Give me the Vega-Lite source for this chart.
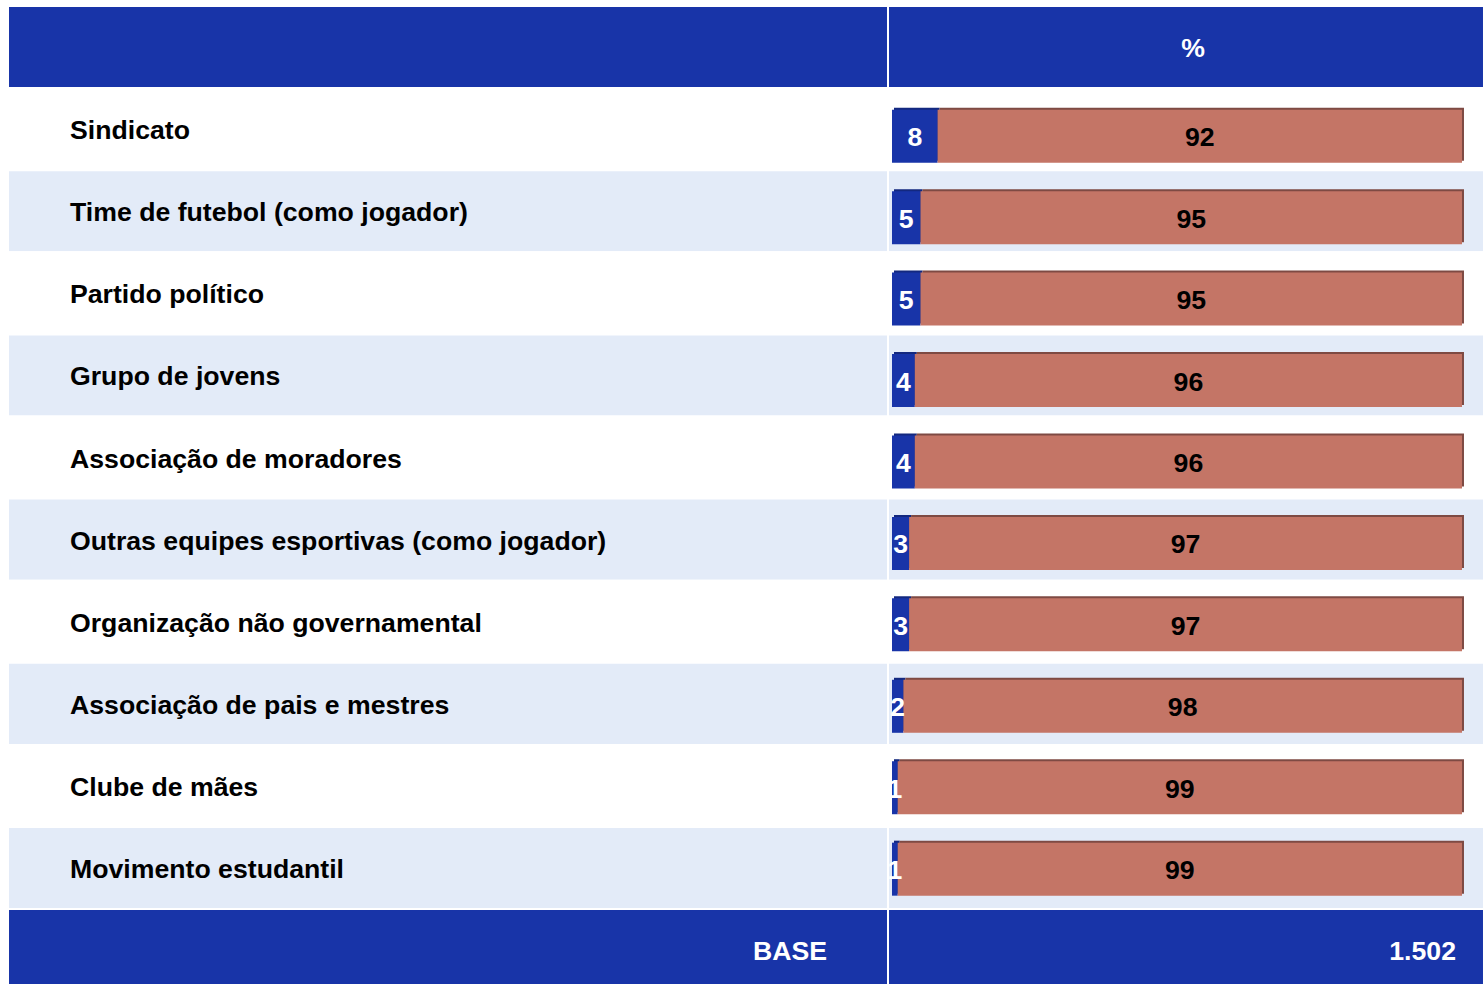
{
  "$schema": "https://vega.github.io/schema/vega-lite/v6.json",
  "padding": {"left": 7, "top": 5, "right": 0, "bottom": 0},
  "bounds": "flush",
  "spacing": 0,
  "background": "white",
  "config": {
    "view": {"stroke": null},
    "font": "Liberation Sans",
    "text": {"font": "Liberation Sans", "fontWeight": "bold", "fontSize": 26.67, "baseline": "middle"}
  },
  "datasets": {
    "rows": [
      {"row": "%", "part": "head"},
      {"row": "Sindicato", "part": "body"},
      {"row": "Time de futebol (como jogador)", "part": "body"},
      {"row": "Partido político", "part": "body"},
      {"row": "Grupo de jovens", "part": "body"},
      {"row": "Associação de moradores", "part": "body"},
      {"row": "Outras equipes esportivas (como jogador)", "part": "body"},
      {"row": "Organização não governamental", "part": "body"},
      {"row": "Associação de pais e mestres", "part": "body"},
      {"row": "Clube de mães", "part": "body"},
      {"row": "Movimento estudantil", "part": "body"},
      {"row": "BASE", "part": "foot", "n": "1.502"}
    ],
    "bars": [
      {"row": "Sindicato", "resp": "Sim", "pct": 8},
      {"row": "Sindicato", "resp": "Não", "pct": 92},
      {"row": "Time de futebol (como jogador)", "resp": "Sim", "pct": 5},
      {"row": "Time de futebol (como jogador)", "resp": "Não", "pct": 95},
      {"row": "Partido político", "resp": "Sim", "pct": 5},
      {"row": "Partido político", "resp": "Não", "pct": 95},
      {"row": "Grupo de jovens", "resp": "Sim", "pct": 4},
      {"row": "Grupo de jovens", "resp": "Não", "pct": 96},
      {"row": "Associação de moradores", "resp": "Sim", "pct": 4},
      {"row": "Associação de moradores", "resp": "Não", "pct": 96},
      {"row": "Outras equipes esportivas (como jogador)", "resp": "Sim", "pct": 3},
      {"row": "Outras equipes esportivas (como jogador)", "resp": "Não", "pct": 97},
      {"row": "Organização não governamental", "resp": "Sim", "pct": 3},
      {"row": "Organização não governamental", "resp": "Não", "pct": 97},
      {"row": "Associação de pais e mestres", "resp": "Sim", "pct": 2},
      {"row": "Associação de pais e mestres", "resp": "Não", "pct": 98},
      {"row": "Clube de mães", "resp": "Sim", "pct": 1},
      {"row": "Clube de mães", "resp": "Não", "pct": 99},
      {"row": "Movimento estudantil", "resp": "Sim", "pct": 1},
      {"row": "Movimento estudantil", "resp": "Não", "pct": 99}
    ]
  },
  "hconcat": [
    {
      "width": 880,
      "height": 985.2,
      "layer": [
        {
          "data": {"name": "rows"},
          "transform": [{"window": [{"op": "row_number", "as": "rn"}]}],
          "mark": {"type": "bar", "stroke": "white", "strokeWidth": 2},
          "encoding": {
            "y": {
              "field": "row", "type": "nominal", "axis": null,
              "scale": {
                "domain": ["%", "Sindicato", "Time de futebol (como jogador)", "Partido político", "Grupo de jovens", "Associação de moradores", "Outras equipes esportivas (como jogador)", "Organização não governamental", "Associação de pais e mestres", "Clube de mães", "Movimento estudantil", "BASE"],
                "paddingInner": 0, "paddingOuter": 0
              }
            },
            "color": {
              "condition": [
                {"test": "datum.part !== 'body'", "value": "#1834A8"},
                {"test": "datum.rn % 2 == 1", "value": "#E3EBF8"}
              ],
              "value": "#FFFFFF"
            }
          }
        },
        {
          "data": {"name": "rows"},
          "transform": [{"filter": "datum.part === 'body'"}],
          "mark": {"type": "text", "align": "left", "color": "#000000", "yOffset": 2},
          "encoding": {
            "y": {"field": "row", "type": "nominal", "axis": null},
            "x": {"value": 62},
            "text": {"field": "row"}
          }
        },
        {
          "data": {"name": "rows"},
          "transform": [{"filter": "datum.part === 'foot'"}],
          "mark": {"type": "text", "align": "right", "color": "#FFFFFF", "yOffset": 2},
          "encoding": {
            "y": {"field": "row", "type": "nominal", "axis": null},
            "x": {"value": 819},
            "text": {"field": "row"}
          }
        }
      ]
    },
    {
      "width": 596,
      "height": 985.2,
      "resolve": {"scale": {"y": "independent"}},
      "layer": [
        {
          "layer": [
            {
              "data": {"name": "rows"},
              "transform": [{"window": [{"op": "row_number", "as": "rn"}]}],
              "mark": {"type": "bar", "stroke": "white", "strokeWidth": 2},
              "encoding": {
                "y": {
                  "field": "row", "type": "nominal", "axis": null,
                  "scale": {
                    "domain": ["%", "Sindicato", "Time de futebol (como jogador)", "Partido político", "Grupo de jovens", "Associação de moradores", "Outras equipes esportivas (como jogador)", "Organização não governamental", "Associação de pais e mestres", "Clube de mães", "Movimento estudantil", "BASE"],
                    "paddingInner": 0, "paddingOuter": 0
                  }
                },
                "color": {
                  "condition": [
                    {"test": "datum.part !== 'body'", "value": "#1834A8"},
                    {"test": "datum.rn % 2 == 1", "value": "#E3EBF8"}
                  ],
                  "value": "#FFFFFF"
                }
              }
            },
            {
              "data": {"name": "rows"},
              "transform": [{"filter": "datum.part === 'head'"}],
              "mark": {"type": "text", "align": "center", "color": "#FFFFFF", "dx": 7, "yOffset": 2},
              "encoding": {
                "y": {"field": "row", "type": "nominal", "axis": null},
                "text": {"field": "row"}
              }
            },
            {
              "data": {"name": "rows"},
              "transform": [{"filter": "datum.part === 'foot'"}],
              "mark": {"type": "text", "align": "right", "color": "#FFFFFF", "yOffset": 2},
              "encoding": {
                "y": {"field": "row", "type": "nominal", "axis": null},
                "x": {"value": 568},
                "text": {"field": "n"}
              }
            }
          ]
        },
        {
          "data": {"name": "bars"},
          "layer": [
            {
              "mark": {"type": "bar", "height": {"band": 0.651}, "yOffset": -2, "xOffset": 2},
              "encoding": {
                "y": {
                  "field": "row", "type": "nominal", "axis": null,
                  "scale": {
                    "domain": ["Sindicato", "Time de futebol (como jogador)", "Partido político", "Grupo de jovens", "Associação de moradores", "Outras equipes esportivas (como jogador)", "Organização não governamental", "Associação de pais e mestres", "Clube de mães", "Movimento estudantil"],
                    "range": [89.5, 903.9], "paddingInner": 0, "paddingOuter": 0
                  }
                },
                "x": {"field": "pct", "type": "quantitative", "stack": "zero", "axis": null, "scale": {"domain": [0, 100], "range": [4, 574], "nice": false, "zero": false}},
                "order": {"field": "resp", "sort": "descending"},
                "fill": {"field": "resp", "type": "nominal", "legend": null, "scale": {"domain": ["Sim", "Não"], "range": ["#13287F", "#7E4A43"]}}
              }
            },
            {
              "mark": {"type": "bar", "height": {"band": 0.651}},
              "encoding": {
                "y": {"field": "row", "type": "nominal", "axis": null},
                "x": {"field": "pct", "type": "quantitative", "stack": "zero", "axis": null},
                "order": {"field": "resp", "sort": "descending"},
                "color": {"field": "resp", "type": "nominal", "legend": null, "scale": {"domain": ["Sim", "Não"], "range": ["#1834A8", "#C47566"]}}
              }
            },
            {
              "mark": {"type": "text", "align": "center", "yOffset": 2, "clip": true},
              "encoding": {
                "y": {"field": "row", "type": "nominal", "axis": null},
                "x": {"field": "pct", "type": "quantitative", "stack": "zero", "bandPosition": 0.5, "axis": null},
                "order": {"field": "resp", "sort": "descending"},
                "text": {"field": "pct", "type": "quantitative"},
                "color": {"condition": {"test": "datum.resp === 'Sim'", "value": "#FFFFFF"}, "value": "#000000"}
              }
            }
          ]
        }
      ]
    }
  ]
}
